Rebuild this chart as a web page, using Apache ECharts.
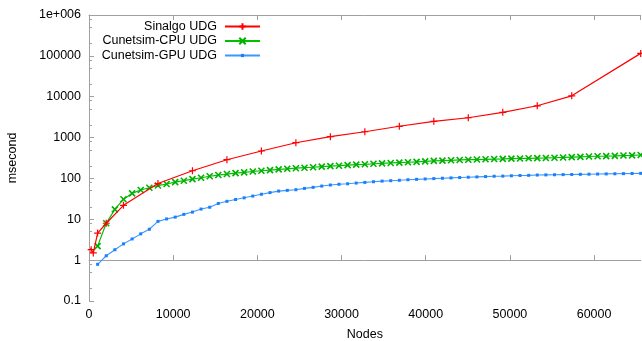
<!DOCTYPE html>
<html>
<head>
<meta charset="utf-8">
<script src="https://cdn.jsdelivr.net/npm/echarts@6/dist/echarts.min.js"></script>
<style>
html,body{margin:0;padding:0;background:#fff;}
#chart{width:642px;height:341px;}
</style>
</head>
<body>
<div id="chart"></div>
<script>
// ---- data ----
const seriesNames = ['Sinalgo UDG', 'Cunetsim-CPU UDG', 'Cunetsim-GPU UDG'];

const nodesSinalgo = [256, 512, 1024, 2048, 4096, 8192, 12288, 16384, 20480, 24576, 28672, 32768, 36864, 40960, 45056, 49152, 53248, 57344, 65536];
const sinalgo = [1.8, 1.5, 4.6, 8, 22, 75, 154, 287, 469, 748, 1050, 1390, 1890, 2500, 3060, 4150, 6000, 10500, 115000];

const nodesCunetsim = [1024, 2048, 3072, 4096, 5120, 6144, 7168, 8192, 9216, 10240, 11264, 12288, 13312, 14336, 15360, 16384,
  17408, 18432, 19456, 20480, 21504, 22528, 23552, 24576, 25600, 26624, 27648, 28672, 29696, 30720, 31744, 32768,
  33792, 34816, 35840, 36864, 37888, 38912, 39936, 40960, 41984, 43008, 44032, 45056, 46080, 47104, 48128, 49152,
  50176, 51200, 52224, 53248, 54272, 55296, 56320, 57344, 58368, 59392, 60416, 61440, 62464, 63488, 64512, 65536];

const cpu = [2.2, 8, 17.5, 31, 43, 52, 59, 67, 73, 81, 88, 96, 104, 113, 121, 128,
  135, 141, 148, 154, 160, 166, 172, 178, 183, 188, 194, 200, 205, 212, 217, 222,
  229, 234, 239, 244, 249, 254, 262, 268, 273, 278, 283, 287, 290, 294, 298, 300,
  305, 308, 311, 314, 317, 321, 326, 332, 338, 344, 349, 352, 357, 363, 368, 374];

const gpu = [0.79, 1.28, 1.8, 2.5, 3.3, 4.4, 5.7, 8.9, 10.2, 11.3, 13.2, 15, 17.8, 19.7, 24.4, 27.5,
  30.5, 33.5, 37, 41, 45, 49, 51, 53, 57, 60.5, 65, 69, 72, 74, 77, 80,
  83, 86, 88, 90, 93, 95, 97, 99, 101, 103, 105, 107, 109, 111, 113, 114,
  116, 118, 119, 121, 122, 123, 124, 125, 126, 127, 128, 129, 130, 131, 132, 133];

const xTickLabels = ['0', '10000', '20000', '30000', '40000', '50000', '60000'];
const yTickLabels = ['0.1', '1', '10', '100', '1000', '10000', '100000', '1e+006'];
const yMinorTicks = [0.2, 0.5, 0.8, 2, 5, 8, 20, 50, 80, 200, 500, 800, 2000, 5000, 8000,
  20000, 50000, 80000, 200000, 500000, 800000];

// ---- chart ----
const FONT = '"Liberation Sans", Arial, sans-serif';
const AXIS_COLOR = '#a0a0a0';
const pair = (xs, ys) => xs.map((x, i) => [x, ys[i]]);

const plusPath = 'path://M0,4L8,4M4,0L4,8';
const crossPath = 'path://M0,0L8,8M8,0L0,8';

const chart = echarts.init(document.getElementById('chart'), null, {renderer: 'canvas'});

const legendCommon = {
  right: 381, orient: 'vertical', align: 'right', padding: 0,
  itemWidth: 35, itemHeight: 8, itemGap: 0,
  textStyle: {fontFamily: FONT, fontSize: 12.5, color: '#000', padding: [0, 3, 0, 0]},
  selectedMode: false
};

chart.setOption({
  animation: false,
  backgroundColor: '#fff',
  textStyle: {fontFamily: FONT},
  grid: {left: 89, right: 1.3, top: 15, bottom: 40, containLabel: false, outerBoundsMode: 'none'},
  legend: [
    Object.assign({}, legendCommon, {top: 20, data: [seriesNames[0]]}),
    Object.assign({}, legendCommon, {top: 34.5, data: [seriesNames[1]]}),
    Object.assign({}, legendCommon, {top: 49, itemHeight: 4, data: [seriesNames[2]]})
  ],
  xAxis: [{
    type: 'value', min: 0, max: 65536, interval: 10000,
    name: 'Nodes', nameLocation: 'middle', nameGap: 27,
    nameTextStyle: {fontFamily: FONT, fontSize: 12.5, color: '#000'},
    axisLine: {show: true, lineStyle: {color: AXIS_COLOR, width: 1}},
    axisTick: {show: true, inside: true, length: 5, lineStyle: {color: AXIS_COLOR}},
    axisLabel: {fontFamily: FONT, fontSize: 12.5, color: '#000', margin: 7, showMaxLabel: false,
      formatter: v => xTickLabels[Math.round(v / 10000)] || ''},
    splitLine: {show: false}
  }, {
    type: 'value', position: 'top', min: 0, max: 65536, interval: 10000,
    axisLine: {show: true, lineStyle: {color: AXIS_COLOR, width: 1}},
    axisTick: {show: true, inside: true, length: 5, lineStyle: {color: AXIS_COLOR}},
    axisLabel: {show: false},
    splitLine: {show: false}
  }],
  yAxis: [{
    type: 'log', logBase: 10, min: 0.1, max: 1000000,
    name: 'msecond', nameLocation: 'middle', nameGap: 70, nameRotate: 90,
    nameTextStyle: {fontFamily: FONT, fontSize: 12.5, color: '#000'},
    axisLine: {show: true, lineStyle: {color: AXIS_COLOR, width: 1}},
    axisTick: {show: true, inside: true, length: 5, lineStyle: {color: AXIS_COLOR}},
    axisLabel: {fontFamily: FONT, fontSize: 12.5, color: '#000', margin: 8,
      formatter: v => yTickLabels[Math.round(Math.log10(v)) + 1] || ''},
    splitLine: {show: false}
  }, {
    type: 'value', position: 'left', min: -1, max: 6,
    axisLine: {show: false},
    axisTick: {show: true, inside: true, length: 3, lineStyle: {color: AXIS_COLOR},
      customValues: yMinorTicks.map(v => Math.log10(v))},
    axisLabel: {show: false},
    splitLine: {show: false}
  }],
  series: [{
    name: seriesNames[0], type: 'line', xAxisIndex: 0, yAxisIndex: 0,
    data: pair(nodesSinalgo, sinalgo),
    symbol: plusPath, symbolSize: 7, showSymbol: true,
    lineStyle: {color: '#ff0000', width: 1.2},
    itemStyle: {color: '#ff0000', borderColor: '#ff0000', borderWidth: 1.2},
    z: 3
  }, {
    name: seriesNames[1], type: 'line', xAxisIndex: 0, yAxisIndex: 0,
    data: pair(nodesCunetsim, cpu),
    symbol: crossPath, symbolSize: 6, showSymbol: true,
    lineStyle: {color: '#00c000', width: 1.2},
    itemStyle: {color: '#00b000', borderColor: '#00b000', borderWidth: 1.6},
    z: 2
  }, {
    name: seriesNames[2], type: 'line', xAxisIndex: 0, yAxisIndex: 0,
    data: pair(nodesCunetsim, gpu),
    symbol: 'rect', symbolSize: 3, showSymbol: true,
    lineStyle: {color: '#3a98ff', width: 1.1},
    itemStyle: {color: '#1a7fff', borderWidth: 0},
    z: 1
  }]
});
</script>
</body>
</html>
